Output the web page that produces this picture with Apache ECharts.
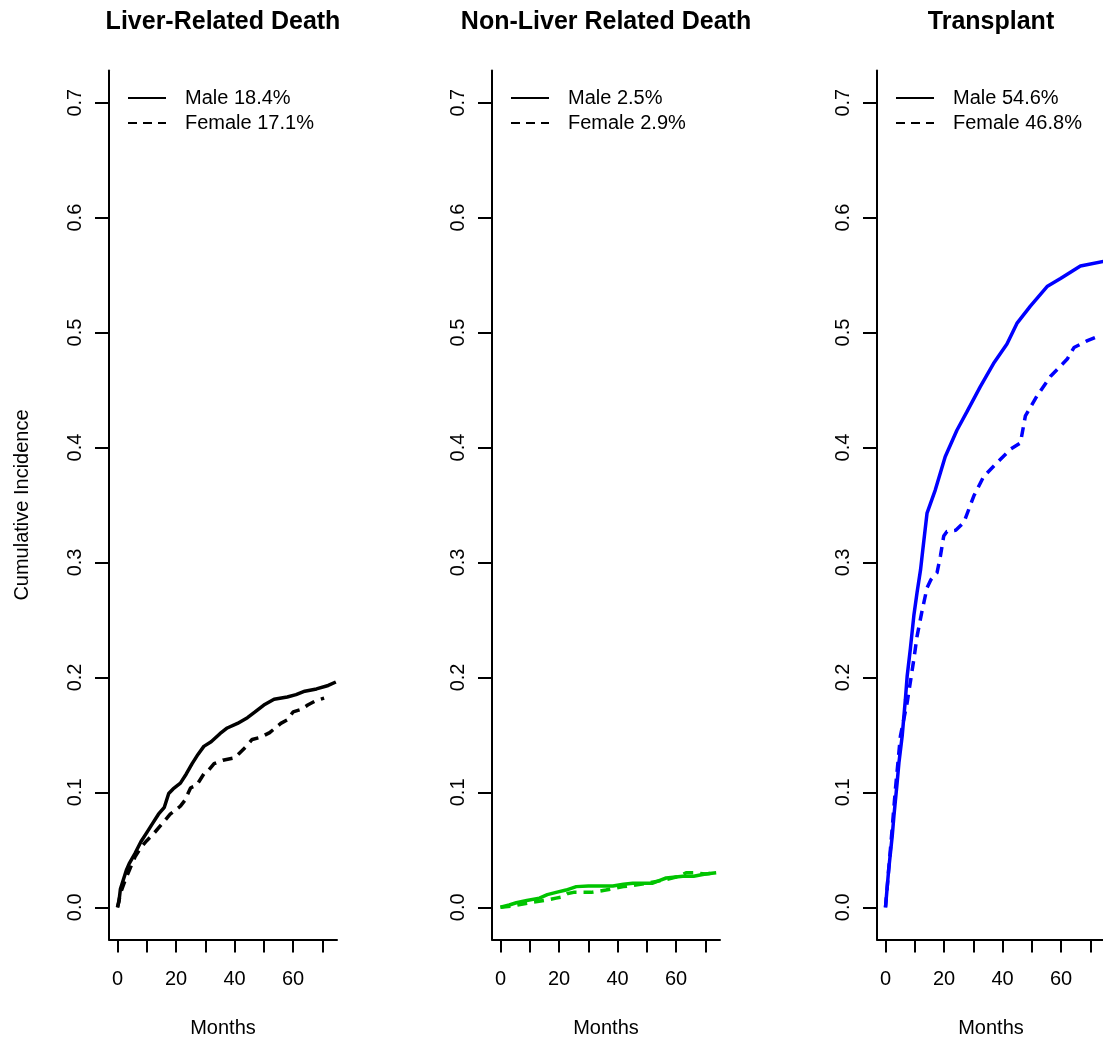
<!DOCTYPE html>
<html><head><meta charset="utf-8">
<script src="https://cdn.jsdelivr.net/npm/echarts@6/dist/echarts.min.js"></script>
<style>html,body{margin:0;padding:0;background:#fff}#c{width:1103px;height:1041px}</style>
</head><body><div id="c"></div>
<script>
// ---- data ----
const panelTitles = ['Liver-Related Death', 'Non-Liver Related Death', 'Transplant'];
const maleNames = ['Male 18.4%', 'Male 2.5%', 'Male 54.6%'];
const femaleNames = ['Female 17.1%', 'Female 2.9%', 'Female 46.8%'];
const xTickValues = [0, 10, 20, 30, 40, 50, 60, 70];
const xLabelValues = [0, 20, 40, 60];
const yTickValues = [0, 0.1, 0.2, 0.3, 0.4, 0.5, 0.6, 0.7];
const xAxisTitle = 'Months';
const yAxisTitle = 'Cumulative Incidence';

const liverMale = [[0,0],[0.5,0.005],[1,0.016],[2,0.024],[3,0.032],[4,0.038],[6,0.047],[8,0.057],[10,0.065],[12,0.073],[14,0.081],[16,0.087],[17.5,0.099],[19,0.103],[21.5,0.108],[23.5,0.116],[25.5,0.125],[27.5,0.133],[29.5,0.140],[32,0.144],[35,0.151],[37.5,0.156],[41,0.160],[44.4,0.165],[47,0.170],[50,0.176],[53.5,0.181],[58,0.183],[61,0.185],[64,0.188],[68,0.190],[72,0.193],[74.6,0.196]];
const liverFemale = [[0,0],[1,0.012],[2.6,0.0235],[4,0.032],[6,0.044],[8,0.052],[10,0.058],[12,0.063],[15,0.072],[18,0.081],[21.5,0.088],[23,0.093],[25,0.104],[27,0.106],[29.5,0.116],[31,0.119],[33,0.125],[36,0.128],[40,0.130],[42,0.135],[44,0.140],[46,0.146],[49,0.148],[52,0.152],[55.8,0.160],[58,0.163],[60,0.170],[62.6,0.172],[65,0.176],[68,0.180],[70.6,0.182]];
const nonLiverMale = [[0,0],[3,0.002],[5.4,0.004],[9,0.006],[13.3,0.008],[16,0.011],[19,0.013],[22.4,0.015],[25.9,0.018],[30,0.0185],[38.4,0.0185],[42,0.020],[45.2,0.021],[52,0.021],[54,0.023],[56.6,0.0255],[62.3,0.027],[66,0.027],[70,0.029],[73.7,0.030]];
const nonLiverFemale = [[0,0],[4,0.001],[10,0.004],[15,0.006],[19,0.008],[21,0.009],[23,0.012],[25,0.013],[27,0.013],[31,0.013],[36,0.015],[38,0.016],[42,0.018],[45.2,0.019],[50,0.021],[54.3,0.023],[58,0.025],[61,0.027],[63.4,0.030],[66,0.030],[70,0.029],[73.7,0.030]];
const transplantMale = [[0,0],[1.1,0.033],[2.3,0.062],[2.9,0.080],[4,0.109],[4.6,0.126],[5.7,0.149],[6.8,0.181],[7.4,0.201],[8.5,0.225],[9.7,0.254],[10.8,0.274],[12,0.294],[12.7,0.310],[14.2,0.343],[17,0.363],[20.4,0.392],[24.4,0.415],[27.8,0.431],[32.4,0.453],[36.9,0.473],[41.5,0.490],[44.9,0.508],[49.5,0.523],[55.2,0.540],[59.8,0.547],[66.6,0.558],[74.5,0.562]];
const transplantFemale = [[0,0],[1.7,0.051],[3.4,0.103],[5.1,0.149],[7.4,0.178],[8.5,0.196],[9.7,0.216],[10.8,0.236],[12.5,0.258],[14.2,0.278],[15.5,0.285],[17.6,0.291],[18.8,0.306],[19.9,0.323],[21,0.327],[24,0.328],[26.8,0.335],[30.2,0.358],[33.6,0.375],[38.2,0.387],[42.7,0.3985],[46.1,0.404],[47.8,0.4275],[51.8,0.445],[56.4,0.462],[58.7,0.468],[62.1,0.477],[64.4,0.487],[69,0.493],[72.9,0.497]];

const maleData = [liverMale, nonLiverMale, transplantMale];
const femaleData = [liverFemale, nonLiverFemale, transplantFemale];
const colors = ['#000000', '#00c400', '#0000ff'];

// ---- layout ----
const FONT = '"Liberation Sans", Arial, sans-serif';
const gridLefts = [109, 492, 877];
const gridW = 228, gridTop = 70.5, gridH = 869;
const solidIcon = 'path://M0,0H38V2H0Z';
const dashIcon = 'path://M0,0H9V2H0Z M15,0H24V2H15Z M30,0H38V2H30Z';

const option = {
  animation: false,
  backgroundColor: '#ffffff',
  title: panelTitles.map((t, i) => ({
    text: t, left: gridLefts[i] + gridW / 2, top: 22,
    textAlign: 'center', textVerticalAlign: 'middle', padding: 0,
    textStyle: { fontFamily: FONT, fontSize: 25, fontWeight: 'bold', color: '#000' }
  })),
  legend: panelTitles.map((t, i) => ({
    data: [{ name: maleNames[i], icon: solidIcon }, { name: femaleNames[i], icon: dashIcon }],
    orient: 'vertical', left: gridLefts[i] + 19, top: 88, padding: 0,
    itemWidth: 38, itemHeight: 2, itemGap: 5, selectedMode: false,
    itemStyle: { color: '#000', borderWidth: 0 },
    lineStyle: { width: 0, opacity: 0 },
    textStyle: { fontFamily: FONT, fontSize: 20, color: '#000', padding: [0, 0, 0, 14] }
  })),
  grid: gridLefts.map(l => ({ left: l, top: gridTop, width: gridW, height: gridH,
    containLabel: false, outerBoundsMode: 'none' })),
  xAxis: gridLefts.map((l, i) => ({
    type: 'value', gridIndex: i, min: -2.9, max: 75,
    name: xAxisTitle, nameLocation: 'middle', nameGap: 79,
    nameTextStyle: { fontFamily: FONT, fontSize: 20, color: '#000' },
    splitLine: { show: false },
    axisLine: { show: true, onZero: false, lineStyle: { color: '#000', width: 2 } },
    axisTick: { show: true, customValues: xTickValues, length: 13, lineStyle: { color: '#000', width: 2 } },
    axisLabel: { customValues: xLabelValues, margin: 30, fontFamily: FONT, fontSize: 20, color: '#000' }
  })),
  yAxis: gridLefts.map((l, i) => ({
    type: 'value', gridIndex: i, min: -0.028, max: 0.728,
    name: i === 0 ? yAxisTitle : '', nameLocation: 'middle', nameGap: 77, nameRotate: 90,
    nameTextStyle: { fontFamily: FONT, fontSize: 20, color: '#000' },
    splitLine: { show: false },
    axisLine: { show: true, onZero: false, lineStyle: { color: '#000', width: 2 } },
    axisTick: { show: true, customValues: yTickValues, length: 14, lineStyle: { color: '#000', width: 2 } },
    axisLabel: { customValues: yTickValues, rotate: 90, margin: 24, fontFamily: FONT, fontSize: 20, color: '#000',
      formatter: v => v.toFixed(1) }
  })),
  series: []
};

for (let i = 0; i < 3; i++) {
  option.series.push({
    name: maleNames[i], type: 'line', xAxisIndex: i, yAxisIndex: i, data: maleData[i],
    symbol: 'none', showSymbol: false, silent: true,
    lineStyle: { color: colors[i], width: 3.5, type: 'solid' }, itemStyle: { color: colors[i] }
  });
  option.series.push({
    name: femaleNames[i], type: 'line', xAxisIndex: i, yAxisIndex: i, data: femaleData[i],
    symbol: 'none', showSymbol: false, silent: true,
    lineStyle: { color: colors[i], width: 3.5, type: [10, 7] }, itemStyle: { color: colors[i] }
  });
}

const chart = echarts.init(document.getElementById('c'), null, { renderer: 'canvas' });
chart.setOption(option);
</script>
</body></html>
